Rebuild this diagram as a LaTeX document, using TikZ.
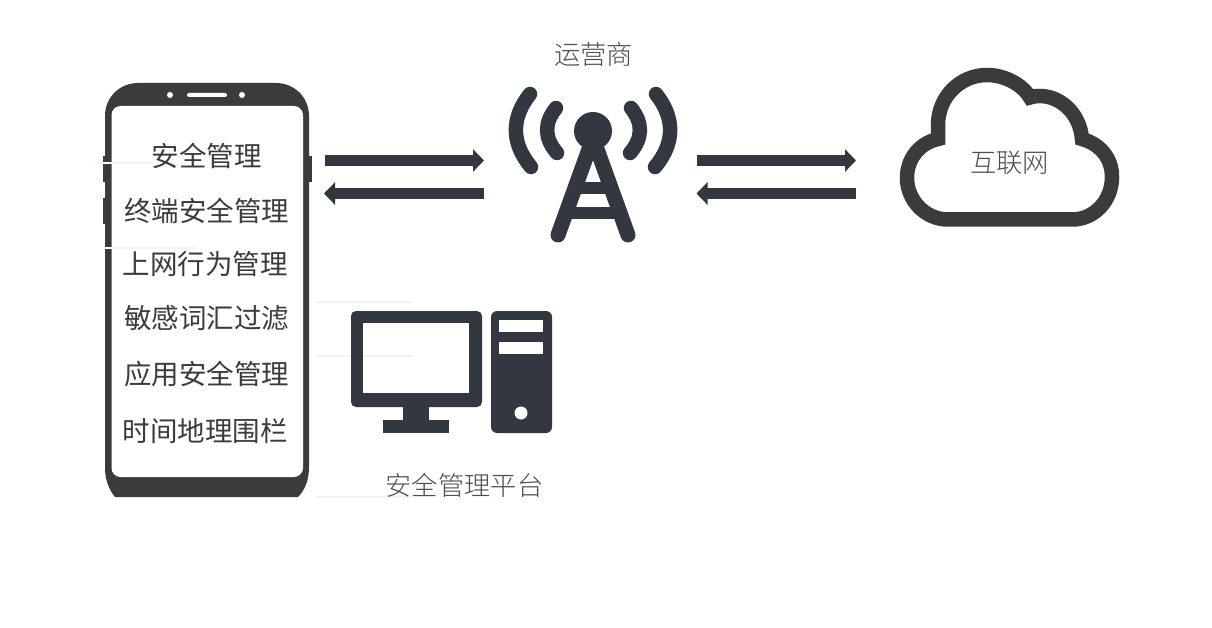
\documentclass[tikz,border=0pt]{standalone}
\usepackage{fontspec}
\setmainfont{Noto Sans CJK SC}
\newfontfamily\cjklight{Noto Sans CJK SC Light}
\usetikzlibrary{arrows.meta}
\definecolor{phonegray}{HTML}{3B3B3B}
\definecolor{slate}{HTML}{333740}
\definecolor{labelgray}{HTML}{4A4D52}
\definecolor{streak}{HTML}{F3F3F3}
\tikzset{
  x=1pt,y=-1pt,
  phonetext/.style={inner sep=0pt,text=phonegray,font=\fontsize{27.5}{29}\selectfont},
  sitelabel/.style={inner sep=0pt,text=labelgray,font=\cjklight\fontsize{26.3}{28}\selectfont},
  blockarrow/.style={draw=slate,line width=11pt,-{Triangle[length=11pt,width=22pt]}},
  towerline/.style={draw=slate,line width=15pt,line cap=round},
  arcline/.style={draw=slate,line width=14.5pt,line cap=round},
  towerbar/.style={draw=slate,line width=12pt},
  cloudline/.style={draw=phonegray,line width=14.5pt,line join=miter},
  streakline/.style={draw=streak,line width=1.2pt},
  cutline/.style={draw=white,line width=1.6pt}
}
\begin{document}
\begin{tikzpicture}
\useasboundingbox[fill=white] (0,0) rectangle (1212,628);
% phone buttons
\fill[phonegray] (102.5,156) rectangle (106,182);
\fill[phonegray] (102.5,198) rectangle (106,224);
\fill[phonegray] (308,156) rectangle (311.5,182);
% phone body
\fill[phonegray] (105,116) .. controls (105,97) and (120,83) .. (138,83) -- (276,83)
  .. controls (294,83) and (309,97) .. (309,116) -- (309,467)
  .. controls (309,480) and (305,490) .. (298,497) -- (115,497)
  .. controls (109,490) and (105,480) .. (105,467) -- cycle;
\fill[white,rounded corners=9pt] (111.5,106) rectangle (303,477);
\fill[white] (170,95) circle (3);
\fill[white] (242,95) circle (3);
\fill[white,rounded corners=2pt] (187,93) rectangle (227,97);
% faint streaks
\draw[streakline] (95,163) -- (152,163);
\draw[cutline] (102,163) -- (112,163);
\draw[streakline] (112,248) -- (196,248);
\draw[cutline] (102,248) -- (112,248);
\draw[streakline] (316,302) -- (412,302);
\draw[streakline] (316,356) -- (351,356);
\draw[streakline] (316,497) -- (412,497);
% phone text
\node[phonetext] (t1) at (206.5,155.5) {安全管理};
\node[phonetext] (t2) at (206.5,210.5) {终端安全管理};
\node[phonetext] (t3) at (205,264.5) {上网行为管理};
\node[phonetext] (t4) at (206.5,318.5) {敏感词汇过滤};
\node[phonetext] (t5) at (206.5,373.5) {应用安全管理};
\node[phonetext] (t6) at (205,431.5) {时间地理围栏};
% arrows
\coordinate (a1s) at (324.5,160.5);
\coordinate (a1e) at (484,160.5);
\coordinate (a2s) at (484,193.5);
\coordinate (a2e) at (324,193.5);
\coordinate (a3s) at (697,160.5);
\coordinate (a3e) at (856,160.5);
\coordinate (a4s) at (856,193.5);
\coordinate (a4e) at (696.5,193.5);
\draw[blockarrow] (a1s) -- (a1e);
\draw[blockarrow] (a2s) -- (a2e);
\draw[blockarrow] (a3s) -- (a3e);
\draw[blockarrow] (a4s) -- (a4e);
% tower
\fill[slate] (593,131) circle (19);
\draw[towerline] (593,138) -- (558,235);
\draw[towerline] (593,138) -- (628,235);
\draw[towerbar] (574,188) -- (612,188);
\draw[towerbar] (566,213) -- (620,213);
\draw[arcline] (530,94) .. controls (511,118) and (511,143) .. (531,167);
\draw[arcline] (556,108) .. controls (544,123) and (544,138) .. (557,153);
\draw[arcline] (656,94) .. controls (675,118) and (675,143) .. (655,167);
\draw[arcline] (631,108) .. controls (643,123) and (643,138) .. (630,153);
\node[sitelabel] (lab1) at (593.5,54.5) {运营商};
% cloud
\draw[cloudline] (948,219.5) -- (1072,219.5)
  .. controls (1095,219.5) and (1112,200) .. (1112,177)
  .. controls (1112,158) and (1100,144) .. (1082,139)
  .. controls (1080,113) and (1060,96) .. (1040,96)
  .. controls (1036,96) and (1033,96.5) .. (1030,97.5)
  .. controls (1022,84) and (1004,75) .. (987,75)
  .. controls (960,75) and (938,97) .. (938,125)
  -- (938,139)
  .. controls (920,143) and (907,158) .. (907,178)
  .. controls (907,200) and (925,219.5) .. (948,219.5) -- cycle;
\node[sitelabel] (lab2) at (1009.5,162.5) {互联网};
% computer
\fill[slate,rounded corners=5pt] (351,311) rectangle (482,407);
\fill[white] (363,323) rectangle (469,393);
\draw[streakline] (363,356) -- (413,356);
\fill[slate] (403,405) rectangle (429,421);
\fill[slate] (383,420) rectangle (449,433);
\fill[slate,rounded corners=6pt] (491,311) rectangle (552,433);
\fill[white] (499,320) rectangle (543,332);
\fill[white] (499,342) rectangle (543,354);
\fill[white] (521,413) circle (6.5);
\node[sitelabel] (lab3) at (464.5,485.5) {安全管理平台};
\end{tikzpicture}
\end{document}
